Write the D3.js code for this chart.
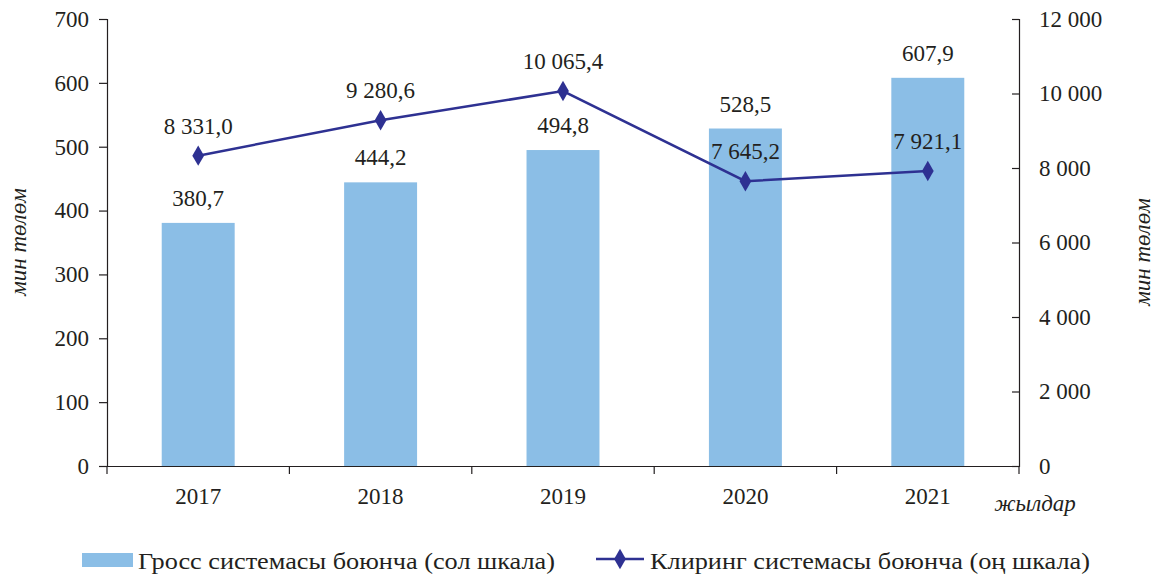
<!DOCTYPE html>
<html><head><meta charset="utf-8">
<script src="https://cdn.jsdelivr.net/npm/d3@7"></script>
<style>body{margin:0;background:#fff}svg{display:block}</style>
</head><body><svg id="c" width="1155" height="577"></svg>
<script>
const years = ["2017","2018","2019","2020","2021"];
const grossValues = [380.7, 444.2, 494.8, 528.5, 607.9];
const clearingValues = [8331.0, 9280.6, 10065.4, 7645.2, 7921.1];
const leftTicks = [0,100,200,300,400,500,600,700];
const rightTicks = [0,2000,4000,6000,8000,10000,12000];
const grossName = "Гросс системасы боюнча (сол шкала)";
const clearingName = "Клиринг системасы боюнча (оң шкала)";
const unitLabel = "мин төлөм";
const xLabel = "жылдар";

const svg = d3.select("#c");
const L = 107, R = 1019, T = 19, B = 466;
const barColor = "#8bbee6", lineColor = "#2e3192", axisColor = "#231f20";
const fs = 23;
const FONT = '"Liberation Serif","Times New Roman",serif';

const x = d3.scaleBand().domain(years).range([L, R]).paddingInner(0.6).paddingOuter(0.3);
const xb = d3.scaleBand().domain(years).range([L, R]);
const yL = d3.scaleLinear().domain([0,700]).range([B, T]);
const yR = d3.scaleLinear().domain([0,12000]).range([B, T]);

const fmt = v => {
  const s = v.toFixed(1).split(".");
  const int = s[0].replace(/\B(?=(\d{3})+(?!\d))/g, " ");
  return int + "," + s[1];
};
const fmtTick = v => String(v).replace(/\B(?=(\d{3})+(?!\d))/g, " ");

// bars
svg.selectAll("rect.bar").data(grossValues).join("rect").attr("class","bar")
  .attr("x", (d,i) => x(years[i])).attr("width", x.bandwidth())
  .attr("y", d => yL(d)).attr("height", d => B - yL(d))
  .attr("fill", barColor);

// left axis
const gl = svg.append("g").attr("transform", `translate(${L},0)`)
  .call(d3.axisLeft(yL).tickValues(leftTicks).tickSize(8).tickPadding(10).tickFormat(fmtTick));
// right axis (ticks inward)
const gr = svg.append("g").attr("transform", `translate(${R},0)`)
  .call(d3.axisLeft(yR).tickValues(rightTicks).tickSize(7).tickFormat(fmtTick));
gr.selectAll(".tick text").attr("text-anchor","start").attr("x", 20);
// bottom axis
const gb = svg.append("g").attr("transform", `translate(0,${B})`)
  .call(d3.axisBottom(xb).tickSize(0).tickPadding(22));
// boundary ticks
const bounds = years.map(y => xb(y)).concat([R]);
svg.selectAll("line.bt").data(bounds).join("line").attr("class","bt")
  .attr("x1", d => d).attr("x2", d => d).attr("y1", B).attr("y2", B + 8)
  .attr("stroke", axisColor).attr("stroke-width", 1.2);

[gl, gr, gb].forEach(g => {
  g.attr("font-family", null).attr("font-size", null);
  g.selectAll("path.domain").attr("stroke", axisColor).attr("stroke-width", 1.2);
  g.selectAll(".tick line").attr("stroke", axisColor).attr("stroke-width", 1.2);
});
gb.select("path.domain").attr("d", `M${L},0.5H${R}`);

// line
const cx = i => xb(years[i]) + xb.bandwidth()/2;
svg.append("path").datum(clearingValues)
  .attr("d", d3.line().x((d,i) => cx(i)).y(d => yR(d)))
  .attr("fill", "none").attr("stroke", lineColor).attr("stroke-width", 2.5);
svg.selectAll("path.mk").data(clearingValues).join("path").attr("class","mk")
  .attr("d", d3.symbol().type(d3.symbolDiamond).size(120))
  .attr("transform", (d,i) => `translate(${cx(i)},${yR(d)})`)
  .attr("fill", lineColor);

// labels
svg.selectAll("text.bl").data(grossValues).join("text").attr("class","bl")
  .attr("x", (d,i) => cx(i)).attr("y", d => yL(d) - 17)
  .attr("text-anchor","middle").text(d => fmt(d));
svg.selectAll("text.ll").data(clearingValues).join("text").attr("class","ll")
  .attr("x", (d,i) => cx(i)).attr("y", d => yR(d) - 22)
  .attr("text-anchor","middle").text(d => fmt(d));

// axis titles
svg.append("text").attr("class","it").attr("transform", "translate(26,242) rotate(-90)")
  .attr("text-anchor","middle").text(unitLabel);
svg.append("text").attr("class","it").attr("transform", "translate(1150,252) rotate(-90)")
  .attr("text-anchor","middle").text(unitLabel);
svg.append("text").attr("class","it").attr("x", 1035).attr("y", 511)
  .attr("text-anchor","middle").text(xLabel);

// legend
svg.append("rect").attr("x", 82).attr("y", 553).attr("width", 51).attr("height", 14).attr("fill", barColor);
svg.append("text").attr("x", 138).attr("y", 569).attr("textLength", 417).attr("lengthAdjust","spacingAndGlyphs").text(grossName);
svg.append("line").attr("x1", 596).attr("x2", 644).attr("y1", 559).attr("y2", 559)
  .attr("stroke", lineColor).attr("stroke-width", 2.5);
svg.append("path").attr("d", d3.symbol().type(d3.symbolDiamond).size(120)())
  .attr("transform", "translate(620,559)").attr("fill", lineColor);
svg.append("text").attr("x", 650).attr("y", 569).attr("textLength", 440).attr("lengthAdjust","spacingAndGlyphs").text(clearingName);

svg.selectAll("text").style("font-family", FONT).style("font-size", fs + "px").style("fill", "#231f20");
svg.selectAll("text.it").style("font-style", "italic");
</script></body></html>
